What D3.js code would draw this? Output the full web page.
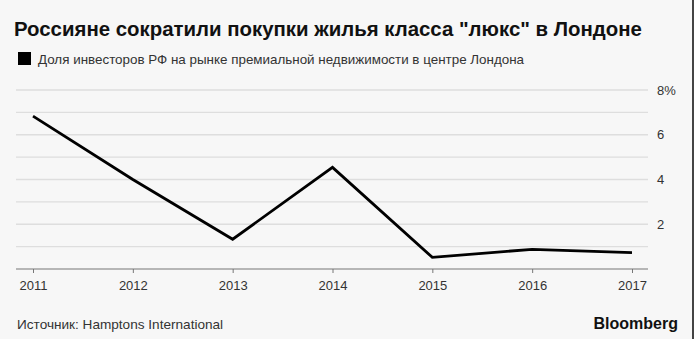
<!DOCTYPE html>
<html><head><meta charset="utf-8">
<script src="https://cdn.jsdelivr.net/npm/d3@7"></script>
<style>
html,body{margin:0;padding:0;background:#f7f7f7;}
svg{display:block;font-family:"Liberation Sans",Arial,sans-serif;}
</style></head>
<body>
<svg id="c" width="694" height="339"></svg>
<script>
const years = [2011, 2012, 2013, 2014, 2015, 2016, 2017];
const shares = [6.83, 4.0, 1.33, 4.54, 0.52, 0.88, 0.73];
const gridValues = [1, 2, 3, 4, 5, 6, 7, 8];
const yTickValues = [2, 4, 6, 8];
const titleText = 'Россияне сократили покупки жилья класса "люкс" в Лондоне';
const legendText = 'Доля инвесторов РФ на рынке премиальной недвижимости в центре Лондона';
const sourceText = 'Источник: Hamptons International';
const brandText = 'Bloomberg';

const svg = d3.select('#c');
svg.append('rect').attr('width', 694).attr('height', 339).attr('fill', '#f7f7f7');
svg.append('rect').attr('x', 692).attr('y', 0).attr('width', 2).attr('height', 339).attr('fill', '#444');

const x = d3.scaleLinear().domain([2011, 2017]).range([33, 632]);
const y = d3.scaleLinear().domain([0, 8]).range([269, 90]);
const left = 16, right = 648;

svg.append('text').attr('x', 14).attr('y', 36).attr('font-size', 20.4).attr('font-weight', 'bold')
  .attr('fill', '#111').text(titleText);

svg.append('rect').attr('x', 18).attr('y', 52).attr('width', 13).attr('height', 13).attr('fill', '#000');
svg.append('text').attr('x', 38).attr('y', 64).attr('font-size', 13.4).attr('fill', '#333').text(legendText);

// grid
svg.append('g').selectAll('line').data(gridValues).join('line')
  .attr('x1', left).attr('x2', right)
  .attr('y1', d => y(d)).attr('y2', d => y(d))
  .attr('stroke', '#dedede').attr('stroke-width', 1.3);

// y labels
const yAxis = d3.axisRight(y).tickValues(yTickValues).tickSize(0).tickPadding(9)
  .tickFormat(d => d === 8 ? d + '%' : d);
const gy = svg.append('g').attr('transform', `translate(${right},0)`).call(yAxis);
gy.select('.domain').remove();
gy.selectAll('text').attr('font-size', 13).attr('fill', '#333').attr('font-family', '"Liberation Sans",Arial,sans-serif');

// x axis
const xAxis = d3.axisBottom(x).tickValues(years).tickFormat(d3.format('d')).tickSize(4).tickPadding(8);
const gx = svg.append('g').attr('transform', `translate(0,${y(0)})`).call(xAxis);
gx.select('.domain').remove();
gx.selectAll('line').attr('stroke', '#777');
gx.selectAll('text').attr('font-size', 13).attr('fill', '#333').attr('font-family', '"Liberation Sans",Arial,sans-serif');
svg.append('line').attr('x1', left).attr('x2', right).attr('y1', y(0)).attr('y2', y(0))
  .attr('stroke', '#777').attr('stroke-width', 1.2);

// line
const line = d3.line().x((d, i) => x(years[i])).y(d => y(d));
svg.append('path').datum(shares).attr('d', line).attr('fill', 'none')
  .attr('stroke', '#000').attr('stroke-width', 2.8).attr('stroke-linejoin', 'miter');

svg.append('text').attr('x', 17).attr('y', 329).attr('font-size', 13.6).attr('fill', '#333').text(sourceText);
svg.append('text').attr('x', 678).attr('y', 329).attr('text-anchor', 'end').attr('font-size', 16)
  .attr('font-weight', 'bold').attr('fill', '#111').text(brandText);
</script>
</body></html>
